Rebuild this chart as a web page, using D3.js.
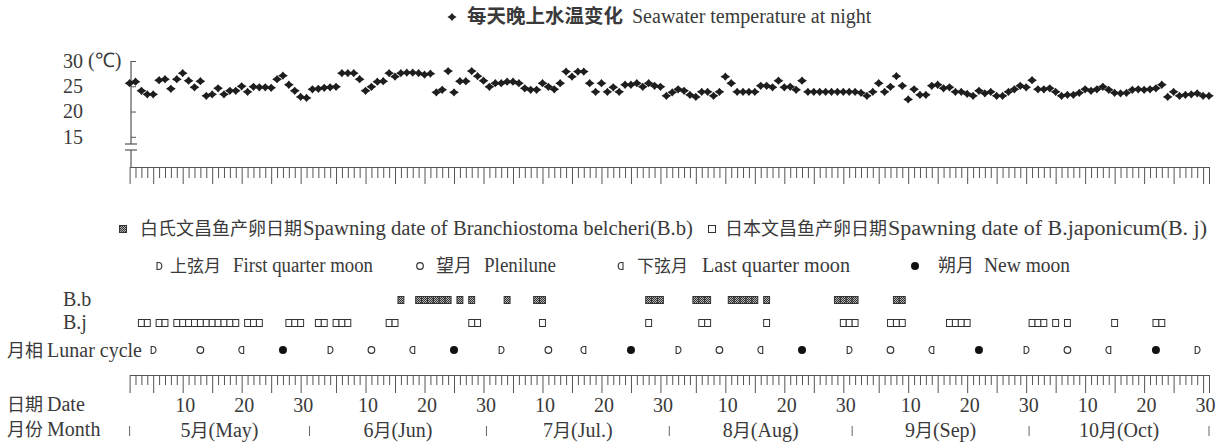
<!DOCTYPE html>
<html>
<head>
<meta charset="utf-8">
<script src="https://cdn.jsdelivr.net/npm/d3@7"></script>
<style>
  html, body { margin: 0; padding: 0; background: #fff; }
  svg { display: block; }
  text { font-family: "Liberation Serif", "Times New Roman", serif; fill: #3a3a3a; }
</style>
</head>
<body>
<div id="chart"></div>
<script>
(function () {
  ///////////////////////////////////////////////////////////// ! Data
  // nightly seawater temperature (°C), one value per day, May 1 -> Oct 31
  const nightTemp = [
    25.6, 25.9, 24.1, 23.4, 23.4, 26.2, 26.4, 24.5, 26.4, 27.6,
    26.1, 24.8, 26.0, 23.1, 23.4, 24.6, 23.4, 24.1, 24.1, 25.0,
    23.9, 24.9, 24.8, 24.8, 24.7, 26.4, 27.1, 25.3, 24.1, 22.9,
    22.7, 24.4, 24.5, 24.7, 24.8, 24.9, 27.6, 27.6, 27.6, 26.4,
    24.1, 24.9, 25.9, 26.0, 27.6, 26.9, 27.6, 27.7, 27.7, 27.6,
    27.3, 27.5, 23.8, 24.3, 28.0, 23.8, 26.0, 26.0, 28.0, 27.0,
    26.1, 24.9, 25.6, 25.6, 25.9, 25.9, 25.6, 24.6, 24.3, 24.3,
    25.6, 24.9, 24.4, 25.6, 27.9, 26.9, 27.9, 27.9, 25.6, 23.9,
    25.6, 23.9, 24.8, 23.9, 25.3, 25.3, 25.6, 24.9, 25.6, 25.1,
    24.9, 23.1, 23.8, 24.4, 24.1, 23.3, 22.9, 23.9, 23.9, 23.1,
    23.9, 26.9, 25.6, 23.9, 23.9, 23.9, 23.9, 25.1, 25.1, 24.8,
    26.1, 24.8, 24.9, 24.3, 26.1, 23.9, 23.9, 23.9, 23.9, 23.9,
    23.9, 23.9, 23.9, 23.9, 23.7, 23.1, 23.9, 25.6, 23.9, 24.9,
    27.0, 25.1, 22.4, 24.4, 23.3, 23.3, 25.1, 25.3, 24.6, 24.8,
    23.9, 23.9, 23.5, 23.1, 24.1, 23.6, 23.9, 23.1, 23.1, 23.9,
    24.4, 25.1, 24.8, 26.2, 24.4, 24.4, 24.6, 23.9, 23.1, 23.3,
    23.3, 23.7, 24.4, 24.1, 24.4, 24.9, 24.3, 23.7, 23.6, 23.7,
    24.3, 24.4, 24.3, 24.4, 24.6, 25.3, 22.9, 23.9, 23.1, 23.3,
    23.4, 23.6, 23.1, 23.1
  ];

  const tempTicks = [15, 20, 25, 30];
  const dateLabelDays = [10, 20, 30];
  const monthNumbers = [5, 6, 7, 8, 9, 10];
  const monthLabels = [
    ["5", "月", "(May)"],
    ["6", "月", "(Jun)"],
    ["7", "月", "(Jul.)"],
    ["8", "月", "(Aug)"],
    ["9", "月", "(Sep)"],
    ["10", "月", "(Oct)"],
  ];

  // spawning dates (month-day)
  const spawnBb = [
    "6-16", "6-19", "6-20", "6-21", "6-22", "6-23", "6-24", "6-26", "6-28",
    "7-4", "7-9", "7-10", "7-28", "7-29", "7-30", "8-5", "8-6", "8-7",
    "8-11", "8-12", "8-13", "8-14", "8-15", "8-17", "8-29", "8-30", "8-31",
    "9-1", "9-8", "9-9",
  ];
  const spawnBj = [
    "5-3", "5-4", "5-6", "5-7", "5-9", "5-10", "5-11", "5-12", "5-13", "5-14",
    "5-15", "5-16", "5-17", "5-18", "5-19", "5-21", "5-22", "5-23", "5-28",
    "5-29", "5-30", "6-2", "6-3", "6-5", "6-6", "6-7", "6-14", "6-15", "6-28",
    "6-29", "7-10", "7-28", "8-6", "8-7", "8-17", "8-30", "8-31", "9-1", "9-7",
    "9-8", "9-9", "9-17", "9-18", "9-19", "9-20", "10-1", "10-2", "10-3",
    "10-5", "10-7", "10-15", "10-22", "10-23",
  ];

  // moon phases
  const firstQuarter = ["5-5", "6-4", "7-3", "8-2", "8-31", "9-30", "10-29"];
  const fullMoon = ["5-13", "6-11", "7-11", "8-9", "9-7", "10-7"];
  const lastQuarter = ["5-20", "6-18", "7-17", "8-16", "9-14", "10-14"];
  const newMoon = ["5-27", "6-25", "7-25", "8-23", "9-22", "10-22"];

  ///////////////////////////////////////////////////////////// ! Setup
  const width = 1224;
  const height = 444;
  const year = 2006;
  const toDate = (s) => {
    const [m, d] = s.split("-").map(Number);
    return new Date(Date.UTC(year, m - 1, d));
  };
  const start = new Date(Date.UTC(year, 4, 1));
  const end = new Date(Date.UTC(year, 9, 31));
  const days = d3.utcDay.range(start, d3.utcDay.offset(end, 1));

  const CJK = "'Noto Sans CJK SC', sans-serif";
  const LAT = "'Liberation Serif', 'Times New Roman', serif";
  const ink = "#3a3a3a";
  const axisColor = "#555";

  const svg = d3
    .select("#chart")
    .append("svg")
    .attr("width", width)
    .attr("height", height);

  // crosshatch fill for B.b squares
  const pat = svg
    .append("defs")
    .append("pattern")
    .attr("id", "hatch")
    .attr("width", 2)
    .attr("height", 2)
    .attr("patternUnits", "userSpaceOnUse");
  pat.append("rect").attr("width", 2).attr("height", 2).attr("fill", "#b5b5b5");
  pat.append("rect").attr("width", 1).attr("height", 1).attr("fill", "#333");
  pat.append("rect").attr("x", 1).attr("y", 1).attr("width", 1).attr("height", 1).attr("fill", "#333");

  ///////////////////////////////////////////////////////////// ! Scales
  const x = d3.scaleUtc().domain([start, end]).range([129.6, 1209]);
  const y = d3.scaleLinear().domain([15, 30]).range([136.8, 61]);
  const dayW = x(d3.utcDay.offset(start, 1)) - x(start);

  // 4-pointed marker used for temperatures
  const sparkle = {
    draw(ctx, size) {
      const r = Math.sqrt(size) / 1.2;
      const k = r * 0.4;
      ctx.moveTo(-r, 0);
      ctx.lineTo(-k, -k);
      ctx.lineTo(0, -r * 0.85);
      ctx.lineTo(k, -k);
      ctx.lineTo(r, 0);
      ctx.lineTo(k, k);
      ctx.lineTo(0, r * 0.85);
      ctx.lineTo(-k, k);
      ctx.closePath();
    },
  };

  ///////////////////////////////////////////////////////////// ! Helpers
  // text made of latin / cjk parts, each with its own font
  function richText(parent, px, py, parts, opts = {}) {
    const t = parent
      .append("text")
      .attr("x", px)
      .attr("y", py)
      .attr("dy", "0.35em")
      .attr("text-anchor", opts.anchor || "start");
    parts.forEach(([str, cjk]) => {
      t.append("tspan")
        .style("font-family", cjk ? CJK : LAT)
        .style("font-size", cjk ? (opts.cjkSize || 18) + "px" : (opts.size || 20) + "px")
        .style("font-weight", cjk && opts.bold ? 700 : 400)
        .text(str);
    });
    return t;
  }

  function moonMark(g, type, cx, cy) {
    if (type === "full") {
      g.append("circle").attr("cx", cx).attr("cy", cy).attr("r", 3.3)
        .attr("fill", "#fff").attr("stroke", "#333").attr("stroke-width", 1.2);
    } else if (type === "new") {
      g.append("circle").attr("cx", cx).attr("cy", cy).attr("r", 4)
        .attr("fill", "#111");
    } else {
      const dir = type === "first" ? 1 : -1;
      g.append("path")
        .attr("d", `M${cx - dir * 2},${cy - 3.5} h${dir * 1.5} a3.3,3.5 0 0 ${dir > 0 ? 1 : 0} 0,7 h${-dir * 1.5} z`)
        .attr("fill", "#fff").attr("stroke", "#333").attr("stroke-width", 1.1);
    }
  }

  function squareMark(g, cx, cy, w, filled) {
    g.append("rect")
      .attr("x", cx - w / 2)
      .attr("y", cy - 3.5)
      .attr("width", w)
      .attr("height", 7)
      .attr("fill", filled ? "url(#hatch)" : "#fff")
      .attr("stroke", "#333")
      .attr("stroke-width", 1);
  }

  const isLong = (d) => d.getUTCDate() % 5 === 0 || +d === +start || +d === +end;

  function dayTicks(yPos, shortLen, longLen) {
    const g = svg
      .append("g")
      .attr("transform", `translate(0,${yPos})`)
      .style("color", axisColor)
      .call(d3.axisBottom(x).tickValues(days).tickSizeInner(shortLen).tickSizeOuter(0).tickFormat(""));
    g.selectAll(".tick line").attr("y2", (d) => (isLong(d) ? longLen : shortLen));
    g.selectAll("text").remove();
    return g;
  }

  ///////////////////////////////////////////////////////////// ! Title
  svg.append("path")
    .attr("transform", "translate(452,17)")
    .attr("d", d3.symbol().type(sparkle).size(30)())
    .attr("fill", "#222");
  richText(svg, 467, 17, [["每天晚上水温变化", true]], { cjkSize: 19.5, bold: true });
  richText(svg, 632, 17, [["Seawater temperature at night", false]]);

  ///////////////////////////////////////////////////////////// ! Temperature panel
  const yAxis = svg
    .append("g")
    .attr("transform", "translate(131,0)")
    .style("color", axisColor)
    .call(d3.axisLeft(y).tickValues(tempTicks).tickSizeInner(-5).tickSizeOuter(0).tickPadding(48));
  yAxis.select(".domain").remove();
  yAxis.selectAll("text")
    .style("font-family", LAT)
    .style("font-size", "20px")
    .attr("fill", ink);
  richText(svg, 88, y(30), [["(℃)", false]]);

  // axis line with a break before the day ticks
  const brk = svg.append("g").attr("stroke", axisColor).attr("stroke-width", 1.2);
  brk.append("line").attr("x1", 131).attr("x2", 131).attr("y1", y(30)).attr("y2", 144);
  brk.append("line").attr("x1", 125).attr("x2", 137).attr("y1", 144).attr("y2", 144);
  brk.append("line").attr("x1", 125).attr("x2", 137).attr("y1", 150).attr("y2", 150);
  brk.append("line").attr("x1", 131).attr("x2", 131).attr("y1", 150).attr("y2", 167);

  dayTicks(167, 11, 17);

  svg.append("g")
    .selectAll("path")
    .data(days.map((d, i) => ({ date: d, t: nightTemp[i] })))
    .join("path")
    .attr("transform", (d) => `translate(${x(d.date)},${y(d.t)})`)
    .attr("d", d3.symbol().type(sparkle).size(34)())
    .attr("fill", "#1e1e1e");

  ///////////////////////////////////////////////////////////// ! Legends
  const leg = svg.append("g");
  squareMark(leg, 123, 229, 7, true);
  richText(leg, 140, 229, [["白氏文昌鱼产卵日期", true]]);
  richText(leg, 303, 229, [["Spawning date of Branchiostoma belcheri(B.b)", false]])
    .attr("textLength", 390).attr("lengthAdjust", "spacingAndGlyphs");
  squareMark(leg, 712, 229, 7, false);
  richText(leg, 725, 229, [["日本文昌鱼产卵日期", true]]);
  richText(leg, 888, 229, [["Spawning date of B.japonicum(B. j)", false]])
    .attr("textLength", 319).attr("lengthAdjust", "spacingAndGlyphs");

  moonMark(leg, "first", 159, 266);
  richText(leg, 170, 266, [["上弦月", true]], { cjkSize: 17 });
  richText(leg, 233, 266, [["First quarter moon", false]])
    .attr("textLength", 140).attr("lengthAdjust", "spacingAndGlyphs");
  moonMark(leg, "full", 420, 266);
  richText(leg, 436, 266, [["望月", true]]);
  richText(leg, 484, 266, [["Plenilune", false]])
    .attr("textLength", 72).attr("lengthAdjust", "spacingAndGlyphs");
  moonMark(leg, "last", 621, 266);
  richText(leg, 637, 266, [["下弦月", true]], { cjkSize: 17 });
  richText(leg, 702, 266, [["Last quarter moon", false]])
    .attr("textLength", 148).attr("lengthAdjust", "spacingAndGlyphs");
  moonMark(leg, "new", 915, 266);
  richText(leg, 938, 266, [["朔月", true]]);
  richText(leg, 984, 266, [["New moon", false]])
    .attr("textLength", 86).attr("lengthAdjust", "spacingAndGlyphs");

  ///////////////////////////////////////////////////////////// ! Spawning & lunar rows
  const rows = svg.append("g");
  richText(rows, 63, 300, [["B.b", false]]);
  richText(rows, 63, 323, [["B.j", false]]);
  richText(rows, 7, 351, [["月相 ", true], ["Lunar cycle", false]]);

  spawnBb.map(toDate).forEach((d) => squareMark(rows, x(d), 300, dayW, true));
  spawnBj.map(toDate).forEach((d) => squareMark(rows, x(d), 323, dayW, false));

  firstQuarter.map(toDate).forEach((d) => moonMark(rows, "first", x(d), 350));
  fullMoon.map(toDate).forEach((d) => moonMark(rows, "full", x(d), 350));
  lastQuarter.map(toDate).forEach((d) => moonMark(rows, "last", x(d), 350));
  newMoon.map(toDate).forEach((d) => moonMark(rows, "new", x(d), 350));

  ///////////////////////////////////////////////////////////// ! Date axis
  dayTicks(375, 10, 18);

  const dateTicks = [];
  monthNumbers.forEach((m) =>
    dateLabelDays.forEach((d) => dateTicks.push(new Date(Date.UTC(year, m - 1, d))))
  );
  const dateAxis = svg
    .append("g")
    .attr("transform", "translate(0,398)")
    .call(d3.axisBottom(x).tickValues(dateTicks).tickSize(0).tickPadding(0).tickFormat((d) => d.getUTCDate()));
  dateAxis.select(".domain").remove();
  dateAxis.selectAll("text")
    .attr("dx", 2)
    .style("font-family", LAT)
    .style("font-size", "20px")
    .attr("fill", ink);

  richText(svg, 7, 405, [["日期 ", true], ["Date", false]]);
  richText(svg, 7, 430, [["月份 ", true], ["Month", false]]);

  // month separators sit half a day before each month start
  const seps = monthNumbers.map((m, i) =>
    i === 0 ? start : d3.utcHour.offset(new Date(Date.UTC(year, m - 1, 1)), -12)
  );
  seps.push(end);
  svg.append("g")
    .selectAll("line")
    .data(seps)
    .join("line")
    .attr("x1", (d) => x(d))
    .attr("x2", (d) => x(d))
    .attr("y1", 426)
    .attr("y2", 436)
    .attr("stroke", "#666")
    .attr("stroke-width", 1);

  monthLabels.forEach((parts, i) => {
    const cx = (x(seps[i]) + x(seps[i + 1])) / 2;
    richText(svg, cx, 431, parts.map((p, j) => [p, j === 1]), { anchor: "middle" });
  });
})();
</script>
</body>
</html>
